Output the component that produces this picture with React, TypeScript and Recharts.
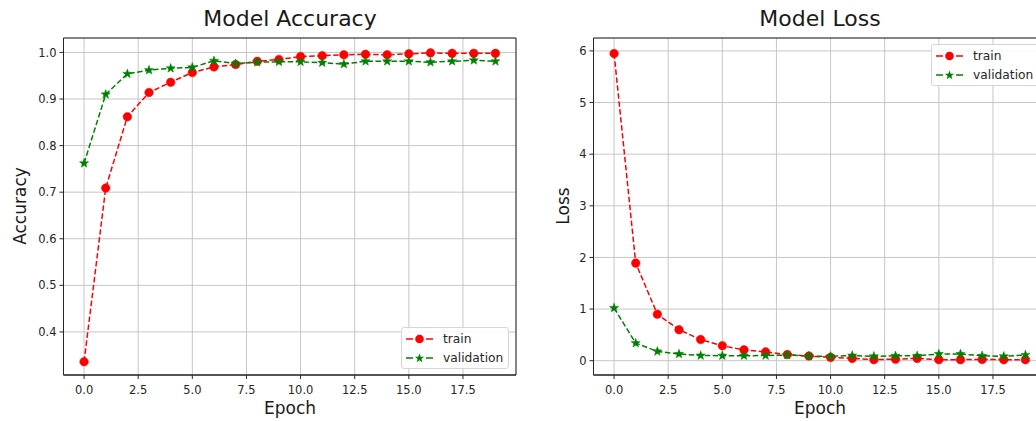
import React from "react";
import { LineChart, Line, XAxis, YAxis, CartesianGrid, ReferenceArea } from "recharts";

const epochs = [0, 1, 2, 3, 4, 5, 6, 7, 8, 9, 10, 11, 12, 13, 14, 15, 16, 17, 18, 19];

const accTrain = [0.336, 0.709, 0.862, 0.914, 0.936, 0.957, 0.969, 0.974, 0.981, 0.985, 0.991, 0.993, 0.995, 0.996, 0.995, 0.997, 0.999, 0.998, 0.998, 0.998];
const accVal = [0.762, 0.91, 0.954, 0.962, 0.966, 0.968, 0.982, 0.976, 0.979, 0.98, 0.98, 0.978, 0.975, 0.981, 0.981, 0.981, 0.979, 0.981, 0.983, 0.981];
const lossTrain = [5.95, 1.89, 0.9, 0.6, 0.41, 0.29, 0.21, 0.17, 0.12, 0.09, 0.065, 0.045, 0.02, 0.03, 0.045, 0.02, 0.02, 0.025, 0.02, 0.02];
const lossVal = [1.02, 0.34, 0.18, 0.13, 0.1, 0.097, 0.097, 0.1, 0.11, 0.09, 0.083, 0.1, 0.085, 0.095, 0.095, 0.13, 0.13, 0.095, 0.085, 0.11];

const xTicks = [0, 2.5, 5, 7.5, 10, 12.5, 15, 17.5];
const accTicks = [0.4, 0.5, 0.6, 0.7, 0.8, 0.9, 1.0];
const lossTicks = [0, 1, 2, 3, 4, 5, 6];

const X_DOMAIN: [number, number] = [-0.95, 19.95];

const accData = epochs.map((e, i) => ({ epoch: e, train: accTrain[i], validation: accVal[i] }));
const lossData = epochs.map((e, i) => ({ epoch: e, train: lossTrain[i], validation: lossVal[i] }));

const RED = "#ff0000";
const GREEN = "#008000";
const FONT = "'DejaVu Sans', sans-serif";
const tickStyle = { fill: "#262626", fontSize: 11.5, fontFamily: FONT };

function starPath(cx: number, cy: number, ro: number, ri: number) {
  let d = "";
  for (let k = 0; k < 10; k++) {
    const r = k % 2 === 0 ? ro : ri;
    const a = -Math.PI / 2 + (k * Math.PI) / 5;
    d += (k === 0 ? "M" : "L") + (cx + r * Math.cos(a)).toFixed(2) + "," + (cy + r * Math.sin(a)).toFixed(2);
  }
  return d + "Z";
}

const RedDot = (p: any) => (
  <circle key={`r-${p.index}`} cx={p.cx} cy={p.cy} r={4.3} fill={RED} stroke={RED} strokeWidth={0.5} />
);
const GreenStar = (p: any) => (
  <path key={`g-${p.index}`} d={starPath(p.cx, p.cy, 4.8, 2.0)} fill={GREEN} stroke={GREEN} strokeWidth={0.5} />
);

function LegendBox({ left, top }: { left: number; top: number }) {
  const items = [
    { label: "train", color: RED, star: false },
    { label: "validation", color: GREEN, star: true },
  ];
  return (
    <div
      style={{
        position: "absolute",
        left,
        top,
        width: 106,
        height: 40,
        border: "1px solid #d6d6d6",
        borderRadius: 3,
        background: "rgba(255,255,255,0.85)",
        fontFamily: FONT,
        fontSize: 12.25,
        color: "#262626",
      }}
    >
      {items.map((it, i) => (
        <div key={it.label} style={{ position: "absolute", left: 4, top: 3 + i * 19, height: 15, display: "flex", alignItems: "center" }}>
          <svg width={28} height={14}>
            <line x1={0} y1={7} x2={7} y2={7} stroke={it.color} strokeWidth={1.5} />
            <line x1={20} y1={7} x2={27} y2={7} stroke={it.color} strokeWidth={1.5} />
            {it.star ? (
              <path d={starPath(13.5, 7.3, 4.8, 2.0)} fill={it.color} />
            ) : (
              <circle cx={13.5} cy={7} r={4.3} fill={it.color} />
            )}
          </svg>
          <span style={{ marginLeft: 9 }}>{it.label}</span>
        </div>
      ))}
    </div>
  );
}

interface PanelProps {
  data: { epoch: number; train: number; validation: number }[];
  yDomain: [number, number];
  yTicks: number[];
  yFmt: (v: number) => string;
  yWidth: number;
  marginRight: number;
}

function Panel({ data, yDomain, yTicks, yFmt, yWidth, marginRight }: PanelProps) {
  return (
    <LineChart width={540} height={421} data={data} margin={{ top: 38, right: marginRight, left: 0, bottom: 0 }}>
      <CartesianGrid stroke="#c6c6c6" strokeWidth={1} />
      <XAxis
        dataKey="epoch"
        type="number"
        domain={X_DOMAIN}
        ticks={xTicks}
        allowDataOverflow
        tickFormatter={(v: number) => v.toFixed(1)}
        tick={tickStyle}
        tickSize={4}
        tickMargin={7}
        height={46}
        stroke="#262626"
        interval={0}
      />
      <YAxis
        type="number"
        domain={yDomain}
        ticks={yTicks}
        allowDataOverflow
        tickFormatter={yFmt}
        tick={tickStyle}
        tickSize={4}
        tickMargin={3}
        width={yWidth}
        stroke="#262626"
        interval={0}
      />
      {/* matplotlib-style full frame */}
      <ReferenceArea
        x1={X_DOMAIN[0]}
        x2={X_DOMAIN[1]}
        y1={yDomain[0]}
        y2={yDomain[1]}
        fill="none"
        fillOpacity={0}
        stroke="#262626"
        strokeWidth={1}
      />
      <Line
        dataKey="train"
        stroke={RED}
        strokeWidth={1.5}
        strokeDasharray="5.5 2.5"
        dot={RedDot}
        activeDot={false}
        isAnimationActive={false}
      />
      <Line
        dataKey="validation"
        stroke={GREEN}
        strokeWidth={1.5}
        strokeDasharray="5.5 2.5"
        dot={GreenStar}
        activeDot={false}
        isAnimationActive={false}
      />
    </LineChart>
  );
}

const textBase: React.CSSProperties = { position: "absolute", fontFamily: FONT, color: "#1a1a1a", whiteSpace: "nowrap" };

export default function App() {
  return (
    <div style={{ position: "fixed", left: 0, top: 0, width: 1036, height: 421, overflow: "hidden", background: "#fff" }}>
      <div style={{ position: "absolute", left: 0, top: 0 }}>
        <Panel data={accData} yDomain={[0.3075, 1.031]} yTicks={accTicks} yFmt={(v) => v.toFixed(1)} yWidth={63.5} marginRight={24} />
      </div>
      <div style={{ position: "absolute", left: 540, top: 0 }}>
        <Panel data={lossData} yDomain={[-0.277, 6.25]} yTicks={lossTicks} yFmt={(v) => String(v)} yWidth={53.5} marginRight={34} />
      </div>

      <div style={{ ...textBase, left: 190, width: 200, textAlign: "center", top: 6, fontSize: 22 }}>Model Accuracy</div>
      <div style={{ ...textBase, left: 720, width: 200, textAlign: "center", top: 6, fontSize: 22 }}>Model Loss</div>

      <div style={{ ...textBase, left: 190, width: 200, textAlign: "center", top: 398, fontSize: 17 }}>Epoch</div>
      <div style={{ ...textBase, left: 720, width: 200, textAlign: "center", top: 398, fontSize: 17 }}>Epoch</div>

      <div style={{ ...textBase, left: 20, top: 206, fontSize: 17, transform: "translate(-50%, -50%) rotate(-90deg)" }}>Accuracy</div>
      <div style={{ ...textBase, left: 563, top: 206, fontSize: 17, transform: "translate(-50%, -50%) rotate(-90deg)" }}>Loss</div>

      <LegendBox left={401} top={327} />
      <LegendBox left={931} top={44} />
    </div>
  );
}
